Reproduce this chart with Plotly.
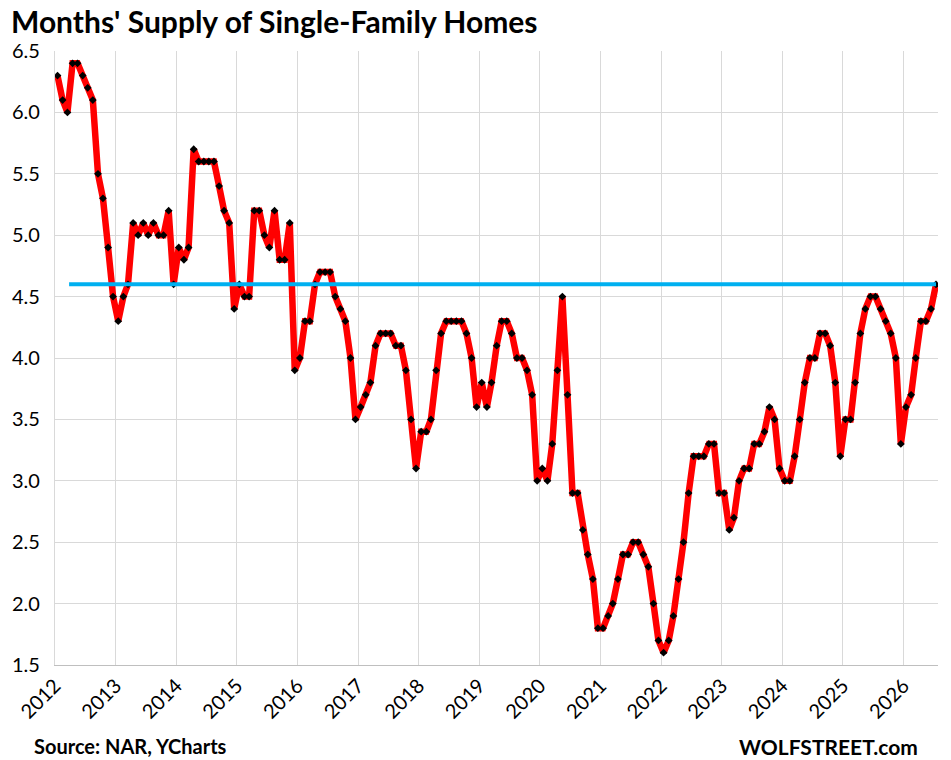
import pandas as pd
import plotly.graph_objects as go

# Months' supply, monthly, Jan 2012 onward
supply_2012 = [6.3, 6.1, 6.0, 6.4, 6.4, 6.3, 6.2, 6.1, 5.5, 5.3, 4.9, 4.5]
supply_2013 = [4.3, 4.5, 4.6, 5.1, 5.0, 5.1, 5.0, 5.1, 5.0, 5.0, 5.2, 4.6]
supply_2014 = [4.9, 4.8, 4.9, 5.7, 5.6, 5.6, 5.6, 5.6, 5.4, 5.2, 5.1, 4.4]
supply_2015 = [4.6, 4.5, 4.5, 5.2, 5.2, 5.0, 4.9, 5.2, 4.8, 4.8, 5.1, 3.9]
supply_2016 = [4.0, 4.3, 4.3, 4.6, 4.7, 4.7, 4.7, 4.5, 4.4, 4.3, 4.0, 3.5]
supply_2017 = [3.6, 3.7, 3.8, 4.1, 4.2, 4.2, 4.2, 4.1, 4.1, 3.9, 3.5, 3.1]
supply_2018 = [3.4, 3.4, 3.5, 3.9, 4.2, 4.3, 4.3, 4.3, 4.3, 4.2, 4.0, 3.6]
supply_2019 = [3.8, 3.6, 3.8, 4.1, 4.3, 4.3, 4.2, 4.0, 4.0, 3.9, 3.7, 3.0]
supply_2020 = [3.1, 3.0, 3.3, 3.9, 4.5, 3.7, 2.9, 2.9, 2.6, 2.4, 2.2, 1.8]
supply_2021 = [1.8, 1.9, 2.0, 2.2, 2.4, 2.4, 2.5, 2.5, 2.4, 2.3, 2.0, 1.7]
supply_2022 = [1.6, 1.7, 1.9, 2.2, 2.5, 2.9, 3.2, 3.2, 3.2, 3.3, 3.3, 2.9]
supply_2023 = [2.9, 2.6, 2.7, 3.0, 3.1, 3.1, 3.3, 3.3, 3.4, 3.6, 3.5, 3.1]
supply_2024 = [3.0, 3.0, 3.2, 3.5, 3.8, 4.0, 4.0, 4.2, 4.2, 4.1, 3.8, 3.2]
supply_2025 = [3.5, 3.5, 3.8, 4.2, 4.4, 4.5, 4.5, 4.4, 4.3, 4.2, 4.0, 3.3]
supply_2026 = [3.6, 3.7, 4.0, 4.3, 4.3, 4.4, 4.6]

reference_level = 4.6
reference_start = "2012-03-26"

supply = (supply_2012 + supply_2013 + supply_2014 + supply_2015 + supply_2016
          + supply_2017 + supply_2018 + supply_2019 + supply_2020 + supply_2021
          + supply_2022 + supply_2023 + supply_2024 + supply_2025 + supply_2026)

months = pd.date_range("2012-01-01", periods=len(supply), freq="MS") + pd.Timedelta(days=15)

year_ticks = [f"{y}-01-01" for y in range(2012, 2027)]
year_labels = [str(y) for y in range(2012, 2027)]
y_ticks = [1.5, 2.0, 2.5, 3.0, 3.5, 4.0, 4.5, 5.0, 5.5, 6.0, 6.5]
y_labels = ["1.5", "2.0", "2.5", "3.0", "3.5", "4.0", "4.5", "5.0", "5.5", "6.0", "6.5"]

FONT = "Lato, 'Open Sans', sans-serif"

# page body has an 8px margin, so the figure is laid out 8px smaller
W, H = 943, 752
L, T = 47, 43
R = W - (938 - 8)
B = H - (665 - 8)
PW = W - L - R
PH = H - T - B

fig = go.Figure()
fig.add_trace(go.Scatter(
    x=months, y=supply, mode="lines+markers",
    line=dict(color="#FF0000", width=6.5),
    marker=dict(symbol="diamond", size=6, color="#000000"),
    showlegend=False, hoverinfo="x+y",
))
ref_x = [pd.Timestamp(reference_start), months[-1]]
fig.add_trace(go.Scatter(
    x=ref_x, y=[reference_level] * len(ref_x), mode="lines",
    line=dict(color="#00B0F0", width=4),
    showlegend=False, hoverinfo="skip",
))

fig.update_layout(
    width=W, height=H,
    margin=dict(l=L, r=R, t=T, b=B),
    paper_bgcolor="white", plot_bgcolor="white",
    font=dict(family=FONT, color="#000000"),
    xaxis=dict(
        type="date",
        range=["2012-01-01", "2026-07-28"],
        tickvals=year_ticks, ticktext=year_labels, tickangle=-45,
        tickfont=dict(size=20, family=FONT, color="#000000"),
        showgrid=True, gridcolor="#D9D9D9", gridwidth=1.3,
        showline=True, linecolor="#BFBFBF", linewidth=1.3,
        ticks="", zeroline=False, automargin=False,
    ),
    yaxis=dict(
        range=[1.5, 6.5],
        tickvals=y_ticks, ticktext=y_labels,
        tickfont=dict(size=20, family=FONT, color="#000000"),
        showgrid=True, gridcolor="#D9D9D9", gridwidth=1.3,
        showline=True, linecolor="#D9D9D9", linewidth=1.3,
        ticks="", zeroline=False, ticklabelstandoff=10, automargin=False,
    ),
    annotations=[
        dict(text="<b>Months' Supply of Single-Family Homes</b>",
             xref="paper", yref="paper",
             x=(1 - L) / PW, xanchor="left", y=1 + (T - 13) / PH, yanchor="middle",
             showarrow=False, font=dict(size=30, family=FONT, color="#000000")),
        dict(text="<b>Source: NAR, YCharts</b>", xref="paper", yref="paper",
             x=(32 - 55) / PW, xanchor="left", y=-(746 - 665) / PH, yanchor="middle",
             showarrow=False, font=dict(size=20, family=FONT, color="#000000")),
        dict(text="<b>WOLFSTREET.com</b>", xref="paper", yref="paper",
             x=(920 - 55) / PW, xanchor="right", y=-(746 - 665) / PH, yanchor="middle",
             showarrow=False, font=dict(size=21, family=FONT, color="#000000")),
    ],
)

fig.write_html("out.html")
